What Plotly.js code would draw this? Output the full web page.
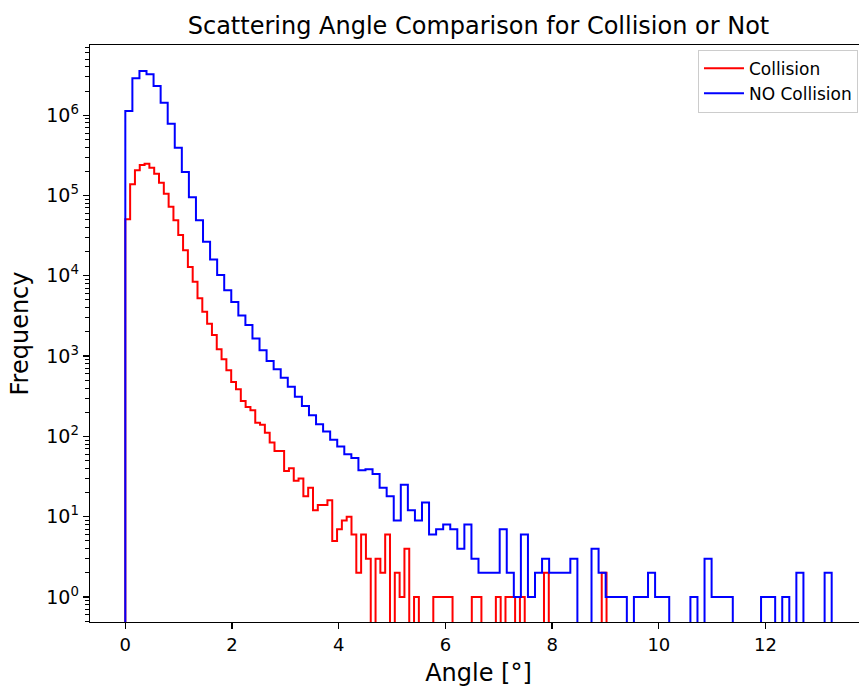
<!DOCTYPE html>
<html>
<head>
<meta charset="utf-8">
<script src="https://cdn.plot.ly/plotly-3.0.1.min.js"></script>
<style>html,body{margin:0;padding:0;background:#fff;overflow:hidden;width:859px;height:688px;}#chart{width:868px;height:688px;}</style>
</head>
<body>
<div id="chart"></div>
<script>
// Histogram ranges (degrees) and counts per bin (100 bins each)
const collisionRange = [0, 9.02];
const noCollisionRange = [0, 13.24];

const collisionCounts = [
  50500, 138000, 206000, 240000, 249000, 222000, 187000, 144000, 105000, 72600,
  49100, 32200, 20800, 12900, 8450, 5250, 3570, 2535, 1833, 1216,
  912, 665, 475, 386, 276, 232, 211, 148, 140, 111,
  84, 66, 66, 37, 40, 28, 30, 18, 23, 12,
  14, 14, 16, 5, 7, 9, 10, 6, 2, 6,
  3, 0, 3, 2, 6, 0, 2, 1, 4, 0,
  1, 0, 0, 0, 1, 1, 1, 1, 0, 0,
  0, 0, 1, 1, 0, 0, 0, 1, 0, 1,
  1, 0, 1, 0, 0, 0, 0, 2, 0, 0,
  0, 0, 0, 0, 0, 0, 0, 0, 0, 2
];

const noCollisionCounts = [
  1130000, 2880000, 3550000, 3230000, 2310000, 1430000, 784000, 394000, 196000, 95000,
  49100, 26600, 16000, 10200, 6590, 4720, 3205, 2440, 1657, 1180,
  869, 685, 538, 414, 312, 239, 183, 142, 115, 91,
  75, 60, 54, 38, 39, 34, 23, 18, 9, 25,
  12, 9, 15, 6, 7, 8, 7, 4, 8, 3,
  2, 2, 2, 7, 2, 1, 6, 1, 2, 3,
  2, 2, 2, 3, 0, 0, 4, 2, 1, 1,
  1, 0, 1, 1, 2, 1, 1, 0, 0, 0,
  1, 0, 3, 1, 1, 1, 0, 0, 0, 0,
  1, 1, 0, 1, 0, 2, 0, 0, 0, 2
];

const seriesNames = ['Collision', 'NO Collision'];
const yTickVals = [1, 10, 100, 1000, 10000, 100000, 1000000];
const yTickText = ['10<sup>0</sup>', '10<sup>1</sup>', '10<sup>2</sup>', '10<sup>3</sup>', '10<sup>4</sup>', '10<sup>5</sup>', '10<sup>6</sup>'];
const xTickVals = [0, 2, 4, 6, 8, 10, 12];

function stepPath(range, counts) {
  const n = counts.length;
  const w = (range[1] - range[0]) / n;
  const floor = 1e-3;
  const xs = [range[0]], ys = [floor];
  for (let i = 0; i < n; i++) {
    xs.push(range[0] + i * w);
    ys.push(counts[i] > 0 ? counts[i] : floor);
  }
  xs.push(range[1]); ys.push(floor);
  return {xs, ys};
}

const a = stepPath(collisionRange, collisionCounts);
const b = stepPath(noCollisionRange, noCollisionCounts);

const minorVals = [];
for (let k = -1; k <= 6; k++) for (let m = 2; m <= 9; m++) minorVals.push(m * Math.pow(10, k));

const traces = [
  {x: a.xs, y: a.ys, type: 'scatter', mode: 'lines', name: seriesNames[0],
   line: {shape: 'hv', color: '#ff0000', width: 2}},
  {x: b.xs, y: b.ys, type: 'scatter', mode: 'lines', name: seriesNames[1],
   line: {shape: 'hv', color: '#0000ff', width: 2}}
];

const font = 'DejaVu Sans, sans-serif';
const layout = {
  width: 868, height: 688,
  margin: {l: 90, r: 1, t: 45, b: 66},
  paper_bgcolor: '#fff', plot_bgcolor: '#fff',
  font: {family: font, color: '#000'},
  title: {text: 'Scattering Angle Comparison for Collision or Not', font: {size: 24, family: font, color: '#000'},
          x: 0.5, xref: 'paper', xanchor: 'center', y: 0.963, yref: 'container', yanchor: 'middle'},
  showlegend: true,
  legend: {x: 0.9884, y: 0.992, xanchor: 'right', yanchor: 'top', font: {size: 17, family: font, color: '#000'},
           bgcolor: 'rgba(255,255,255,0.8)', bordercolor: '#cccccc', borderwidth: 1, tracegroupgap: 0, itemwidth: 40},
  xaxis: {range: [-0.662, 13.902], tickmode: 'array', tickvals: xTickVals, ticks: 'outside', ticklen: 6, tickwidth: 1.3,
          tickcolor: '#000', showline: true, linecolor: '#000', linewidth: 1.3, mirror: true, showgrid: false, zeroline: false,
          tickfont: {size: 18, family: font, color: '#000'},
          title: {text: 'Angle [°]', font: {size: 24, family: font, color: '#000'}, standoff: 10}},
  yaxis: {type: 'log', range: [-0.311, 6.874], tickmode: 'array', tickvals: yTickVals, ticktext: yTickText,
          ticks: 'outside', ticklen: 6, tickwidth: 1.3, tickcolor: '#000', showline: true, linecolor: '#000', linewidth: 1.3,
          mirror: true, showgrid: false, zeroline: false, tickfont: {size: 19, family: font, color: '#000'},
          minor: {tickmode: 'array', tickvals: minorVals, ticks: 'outside', ticklen: 3.5, tickwidth: 1, tickcolor: '#000', showgrid: false},
          title: {text: 'Frequency', font: {size: 24, family: font, color: '#000'}, standoff: 10}}
};

Plotly.newPlot('chart', traces, layout, {displayModeBar: false, staticPlot: true});
</script>
</body>
</html>
